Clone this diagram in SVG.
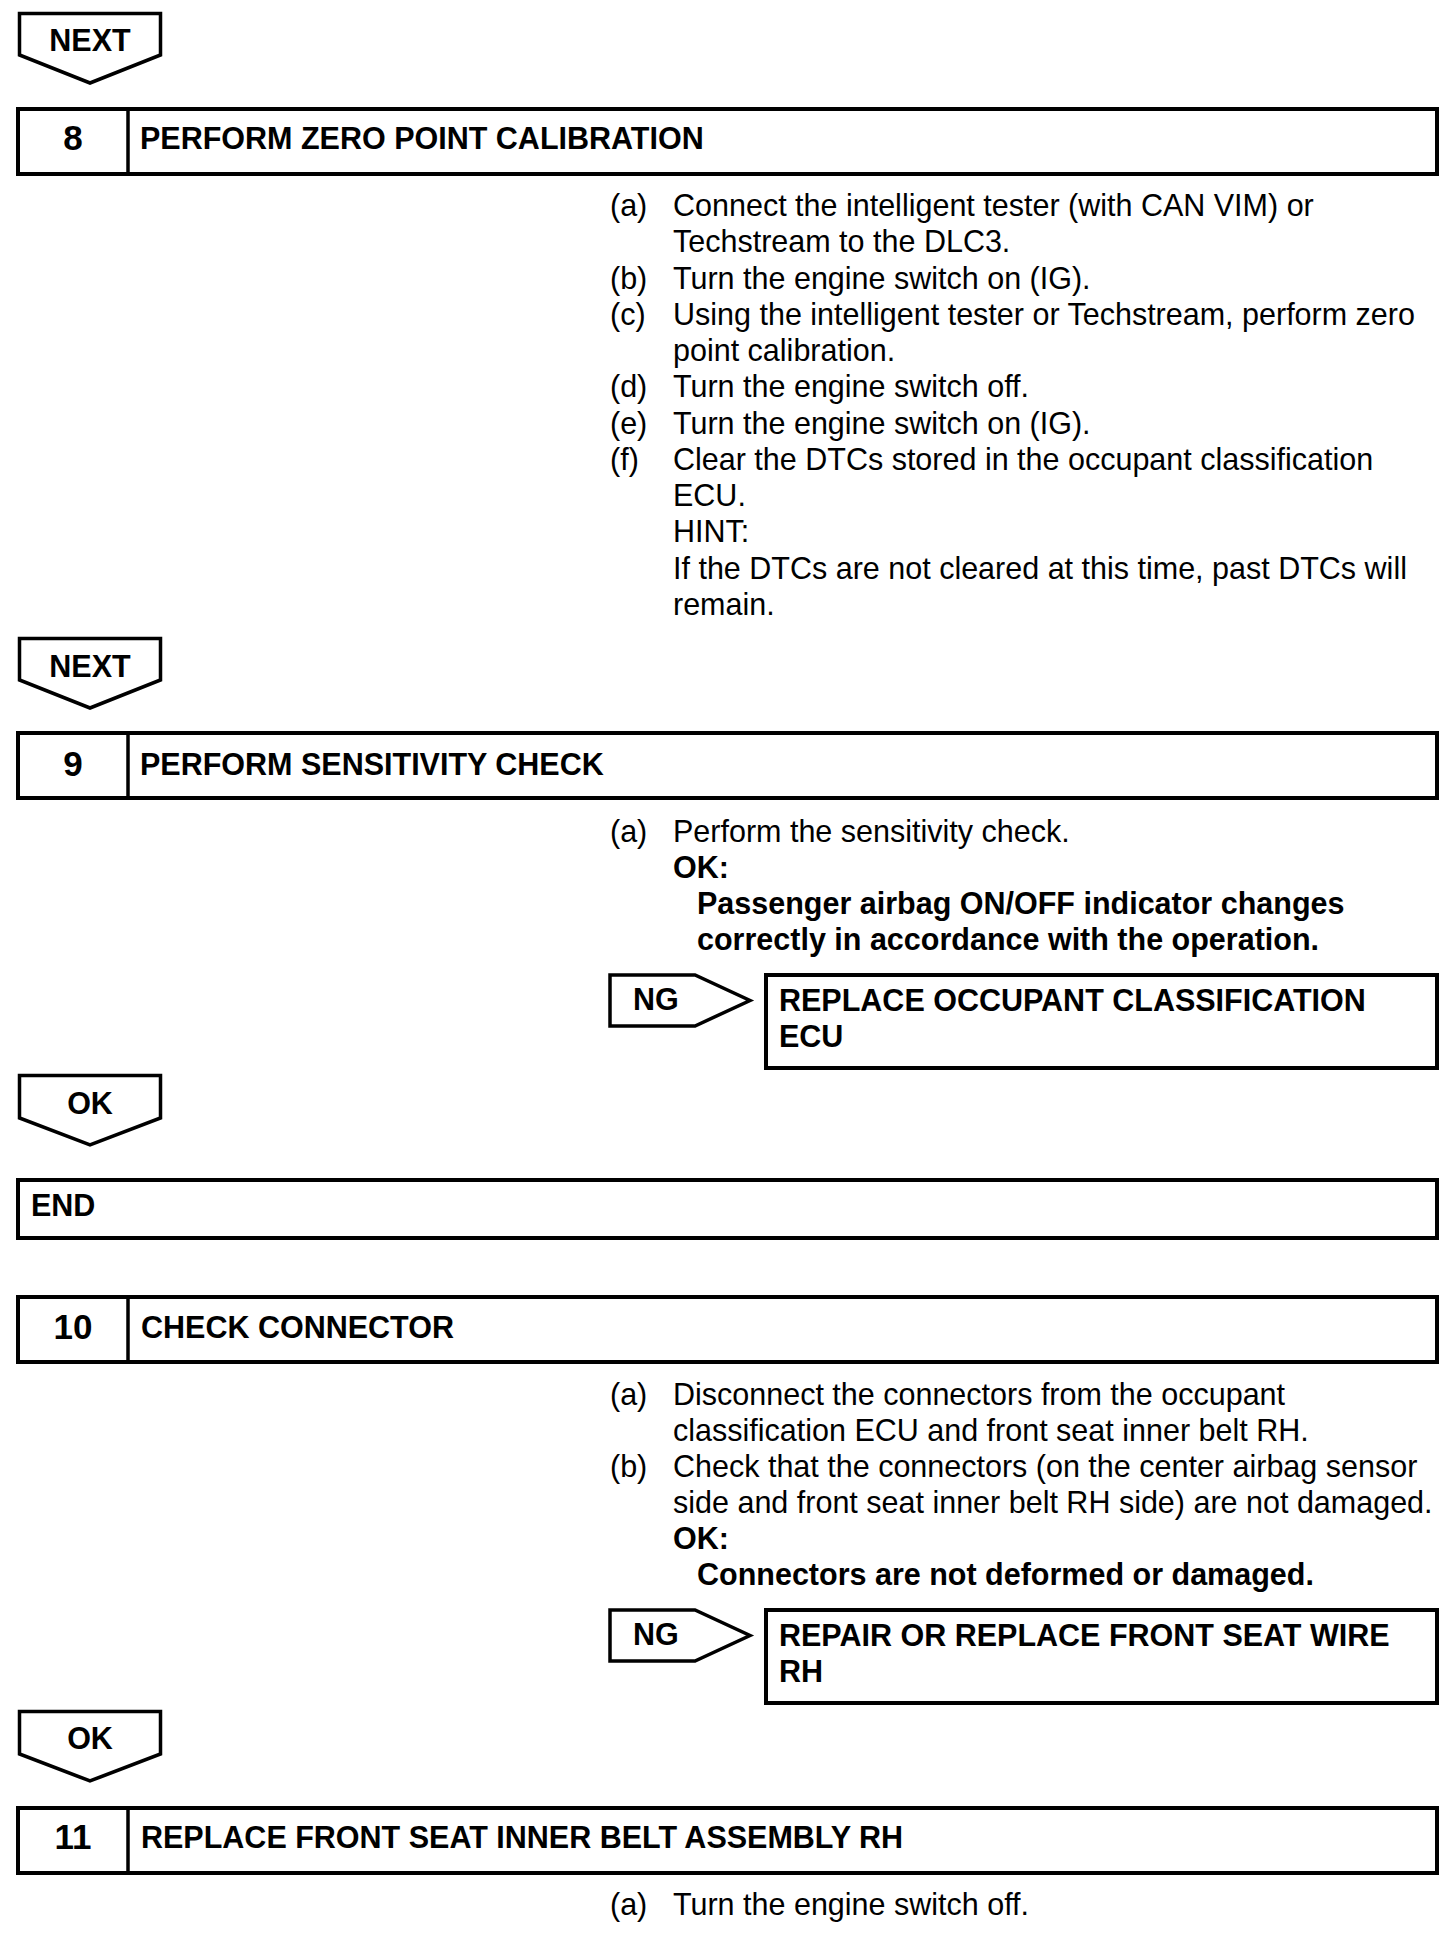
<svg xmlns="http://www.w3.org/2000/svg" width="1456" height="1952" viewBox="0 0 1456 1952">
<style>
text{font-family:"Liberation Sans",Arial,Helvetica,sans-serif;fill:#000}
.b{font-weight:bold;font-size:30.5px}
.n{font-weight:bold;font-size:35px;text-anchor:middle}
.r{font-size:30.5px}
.box{fill:#fff;stroke:#000;stroke-width:4}
.div{stroke:#000;stroke-width:3.5}
.arr{fill:#fff;stroke:#000;stroke-width:3.5;stroke-linejoin:miter}
.c{text-anchor:middle}
</style>
<rect width="1456" height="1952" fill="#fff"/>

<g id="connectors">
<g id="next1"><path class="arr" d="M19.5,13.5 H160.5 V55 L90,83 L19.5,55 Z"/><text class="b c" x="90" y="51">NEXT</text></g>
<g id="next2"><path class="arr" d="M19.5,638.5 H160.5 V680 L90,708 L19.5,680 Z"/><text class="b c" x="90" y="677">NEXT</text></g>
<g id="ok1"><path class="arr" d="M19.5,1075.5 H160.5 V1118 L90,1145 L19.5,1118 Z"/><text class="b c" x="90" y="1114">OK</text></g>
<g id="ok2"><path class="arr" d="M19.5,1711.5 H160.5 V1754 L90,1781 L19.5,1754 Z"/><text class="b c" x="90" y="1749">OK</text></g>
<g id="ng1"><path class="arr" d="M610,975 H695 L750,1000.5 L695,1026 H610 Z"/><text class="b" x="633" y="1010">NG</text></g>
<g id="ng2"><path class="arr" d="M610,1610 H695 L750,1635.5 L695,1661 H610 Z"/><text class="b" x="633" y="1645">NG</text></g>
</g>

<g id="step8">
<rect class="box" x="18" y="109" width="1419" height="65"/>
<line class="div" x1="128" y1="109" x2="128" y2="174"/>
<text class="n" x="73" y="150">8</text>
<text class="b" x="140" y="149">PERFORM ZERO POINT CALIBRATION</text>
</g>
<g id="step8-body">
<text class="r" x="610" y="216">(a)</text><text class="r" x="673" y="216">Connect the intelligent tester (with CAN VIM) or</text>
<text class="r" x="673" y="252">Techstream to the DLC3.</text>
<text class="r" x="610" y="288.5">(b)</text><text class="r" x="673" y="288.5">Turn the engine switch on (IG).</text>
<text class="r" x="610" y="325">(c)</text><text class="r" x="673" y="325">Using the intelligent tester or Techstream, perform zero</text>
<text class="r" x="673" y="361">point calibration.</text>
<text class="r" x="610" y="397">(d)</text><text class="r" x="673" y="397">Turn the engine switch off.</text>
<text class="r" x="610" y="433.5">(e)</text><text class="r" x="673" y="433.5">Turn the engine switch on (IG).</text>
<text class="r" x="610" y="470">(f)</text><text class="r" x="673" y="470">Clear the DTCs stored in the occupant classification</text>
<text class="r" x="673" y="506">ECU.</text>
<text class="r" x="673" y="542">HINT:</text>
<text class="r" x="673" y="578.5">If the DTCs are not cleared at this time, past DTCs will</text>
<text class="r" x="673" y="615">remain.</text>
</g>

<g id="step9">
<rect class="box" x="18" y="733" width="1419" height="65"/>
<line class="div" x1="128" y1="733" x2="128" y2="798"/>
<text class="n" x="73" y="776">9</text>
<text class="b" x="140" y="775">PERFORM SENSITIVITY CHECK</text>
</g>
<g id="step9-body">
<text class="r" x="610" y="842">(a)</text><text class="r" x="673" y="842">Perform the sensitivity check.</text>
<text class="b" x="673" y="878">OK:</text>
<text class="b" x="697" y="914">Passenger airbag ON/OFF indicator changes</text>
<text class="b" x="697" y="950">correctly in accordance with the operation.</text>
</g>
<g id="replace-ecu">
<rect class="box" x="766" y="975" width="671" height="93"/>
<text class="b" x="779" y="1011">REPLACE OCCUPANT CLASSIFICATION</text>
<text class="b" x="779" y="1047">ECU</text>
</g>

<g id="end">
<rect class="box" x="18" y="1180" width="1419" height="58"/>
<text class="b" x="31" y="1216">END</text>
</g>

<g id="step10">
<rect class="box" x="18" y="1297" width="1419" height="65"/>
<line class="div" x1="128" y1="1297" x2="128" y2="1362"/>
<text class="n" x="73" y="1339">10</text>
<text class="b" x="141" y="1338">CHECK CONNECTOR</text>
</g>
<g id="step10-body">
<text class="r" x="610" y="1405">(a)</text><text class="r" x="673" y="1405">Disconnect the connectors from the occupant</text>
<text class="r" x="673" y="1441">classification ECU and front seat inner belt RH.</text>
<text class="r" x="610" y="1477">(b)</text><text class="r" x="673" y="1477">Check that the connectors (on the center airbag sensor</text>
<text class="r" x="673" y="1513">side and front seat inner belt RH side) are not damaged.</text>
<text class="b" x="673" y="1549">OK:</text>
<text class="b" x="697" y="1585">Connectors are not deformed or damaged.</text>
</g>
<g id="repair-wire">
<rect class="box" x="766" y="1610" width="671" height="93"/>
<text class="b" x="779" y="1646">REPAIR OR REPLACE FRONT SEAT WIRE</text>
<text class="b" x="779" y="1682">RH</text>
</g>

<g id="step11">
<rect class="box" x="18" y="1808" width="1419" height="65"/>
<line class="div" x1="128" y1="1808" x2="128" y2="1873"/>
<text class="n" x="73" y="1849">11</text>
<text class="b" x="141" y="1848">REPLACE FRONT SEAT INNER BELT ASSEMBLY RH</text>
</g>
<g id="step11-body">
<text class="r" x="610" y="1915">(a)</text><text class="r" x="673" y="1915">Turn the engine switch off.</text>
</g>
</svg>
